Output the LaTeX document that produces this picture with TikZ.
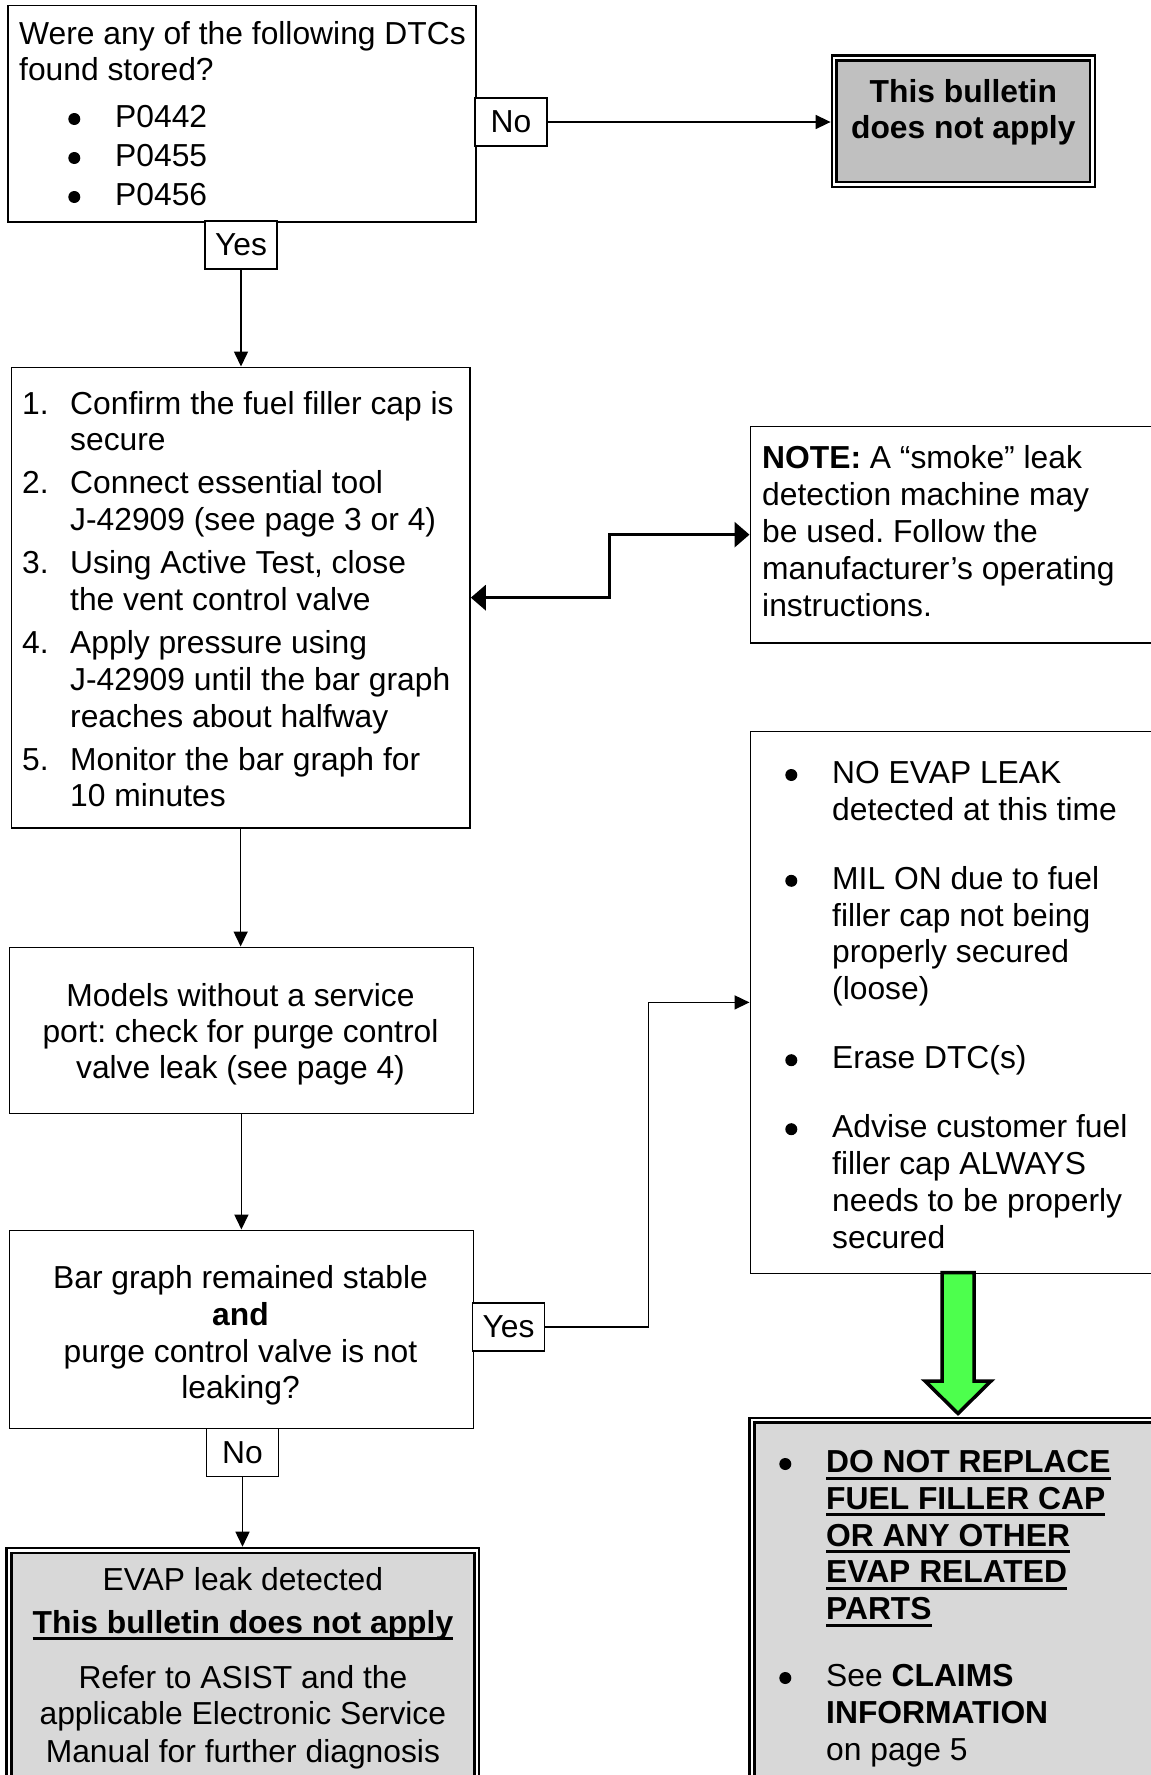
\documentclass[tikz,border=0pt]{standalone}
\usepackage{fontspec}
\setmainfont{Liberation Sans}
\usetikzlibrary{arrows.meta}
\definecolor{bullgray}{RGB}{192,192,192}
\definecolor{boxgray}{RGB}{216,216,216}
\definecolor{arrgreen}{RGB}{77,255,77}
\newsavebox\ulbox
\newcommand\myul[1]{\sbox\ulbox{#1}\rlap{\rule[-7pt]{\wd\ulbox}{3pt}}\usebox\ulbox}
\newcommand\mybul{\tikz[baseline=0pt,x=1pt,y=1pt]\fill (0,8.5) circle[radius=6];}
\newcommand\lbul{\makebox[46.5pt][l]{\hspace*{-0.4pt}\mybul}}
\newcommand\lind{\hspace*{46.5pt}}
\newcommand\lnum[1]{\makebox[48pt][l]{#1}}
\newcommand\lnumx{\hspace*{48pt}}
\frenchspacing
\begin{document}
\frenchspacing
\begin{tikzpicture}[x=1pt,y=-1pt,
  box/.style={draw, line width=1.8pt, fill=white, inner sep=0pt, anchor=north west},
  lab/.style={draw, line width=1.6pt, fill=white, inner sep=0pt, font=\fontsize{31.8}{36.8}\selectfont, minimum width=72pt, minimum height=48pt},
  dbox/.style={draw, line width=2.4pt, double=white, double distance=2.4pt, inner sep=0pt, outer sep=3.6pt, anchor=north west},
  txt/.style={inner sep=0pt, font=\fontsize{31.8}{36.8}\selectfont, anchor=base west},
  ctxt/.style={inner sep=0pt, font=\fontsize{31.8}{36.8}\selectfont, anchor=base},
  conn/.style={line width=1.6pt, -{Triangle[length=15pt,width=14pt]}},
  biconn/.style={line width=3.2pt, {Triangle[length=15pt,width=25pt]}-{Triangle[length=15pt,width=25pt]}}
]
\useasboundingbox (0,0) rectangle (1151,1775);
\fill[white] (0,0) rectangle (1151,1775);
\clip (0,0) rectangle (1151,1775);

% boxes
\node[box, minimum width=468pt, minimum height=216.5pt] (q1) at (7,4.5) {};
\node[dbox, fill=bullgray, minimum width=258.2pt, minimum height=126.5pt] (bull) at (830.6,54.3) {};
\node[box, minimum width=458.5pt, minimum height=460.5pt] (steps) at (10.5,366.5) {};
\node[box, minimum width=460pt, minimum height=216.5pt] (note) at (749.5,425.5) {};
\node[box, minimum width=460pt, minimum height=542pt] (noevap) at (749.5,730.5) {};
\node[box, minimum width=464pt, minimum height=166pt] (models) at (8.5,946.5) {};
\node[box, minimum width=464pt, minimum height=198pt] (bar) at (8.5,1229.5) {};
\node[dbox, fill=boxgray, minimum width=467.8pt, minimum height=300pt] (fin) at (5.4,1546.7) {};
\node[dbox, fill=boxgray, minimum width=460pt, minimum height=400pt] (dnr) at (748.3,1416.6) {};

% labels
\node[lab] (no1) at (511,122) {No};
\node[lab] (yes1) at (241,245) {Yes};
\node[lab] (yes2) at (508.5,1327) {Yes};
\node[lab] (no2) at (242.5,1452.5) {No};

% texts
\node[txt] (q1t) at (19,44) {\begin{tabular}[t]{@{}l@{}}Were any of the following DTCs\\found stored?\end{tabular}};
\node[txt] (q1l) at (68.5,127.5) {\begin{tabular}[t]{@{}l@{}}\lbul P0442\\[2.2pt]\lbul P0455\\[2.2pt]\lbul P0456\end{tabular}};
\node[ctxt, font=\fontsize{31.8}{36.5}\selectfont\bfseries] (bullt) at (963.3,102) {\begin{tabular}[t]{@{}c@{}}This bulletin\\does not apply\end{tabular}};
\node[txt] (stepst) at (22,414) {\begin{tabular}[t]{@{}l@{}}
\lnum{1.}Confirm the fuel filler cap is\\
\lnumx secure\\[6.2pt]
\lnum{2.}Connect essential tool\\
\lnumx J-42909 (see page 3 or 4)\\[6.2pt]
\lnum{3.}Using Active Test, close\\
\lnumx the vent control valve\\[6.2pt]
\lnum{4.}Apply pressure using\\
\lnumx J-42909 until the bar graph\\
\lnumx reaches about halfway\\[6.2pt]
\lnum{5.}Monitor the bar graph for\\
\lnumx 10 minutes
\end{tabular}};
\node[txt, font=\fontsize{31.8}{37.2}\selectfont] (notet) at (762,468) {\begin{tabular}[t]{@{}l@{}}\textbf{NOTE:} A “smoke” leak\\detection machine may\\be used. Follow the\\manufacturer’s operating\\instructions.\end{tabular}};
\node[txt] (noevapt) at (785.5,783.5) {\begin{tabular}[t]{@{}l@{}}
\lbul NO EVAP LEAK\\
\lind detected at this time\\[32.2pt]
\lbul MIL ON due to fuel\\
\lind filler cap not being\\
\lind properly secured\\
\lind (loose)\\[32.2pt]
\lbul Erase DTC(s)\\[32.2pt]
\lbul Advise customer fuel\\
\lind filler cap ALWAYS\\
\lind needs to be properly\\
\lind secured
\end{tabular}};
\node[ctxt, font=\fontsize{31.8}{36}\selectfont] (modelst) at (240.5,1006) {\begin{tabular}[t]{@{}c@{}}Models without a service\\port: check for purge control\\valve leak (see page 4)\end{tabular}};
\node[ctxt] (bart) at (240.5,1288.5) {\begin{tabular}[t]{@{}c@{}}Bar graph remained stable\\\textbf{and}\\purge control valve is not\\leaking?\end{tabular}};
\node[ctxt] (fint) at (242.9,1590) {\begin{tabular}[t]{@{}c@{}}EVAP leak detected\\[6.2pt]\myul{\textbf{This bulletin does not apply}}\\[18.2pt]Refer to ASIST and the\\applicable Electronic Service\\[1.2pt]Manual for further diagnosis\end{tabular}};
\node[txt] (dnrt) at (779.5,1472.5) {\begin{tabular}[t]{@{}l@{}}
\lbul\myul{\textbf{DO NOT REPLACE}}\\
\lind\myul{\textbf{FUEL FILLER CAP}}\\
\lind\myul{\textbf{OR ANY OTHER}}\\
\lind\myul{\textbf{EVAP RELATED}}\\
\lind\myul{\textbf{PARTS}}\\[30pt]
\lbul See \textbf{CLAIMS}\\
\lind\textbf{INFORMATION}\\
\lind on page 5
\end{tabular}};

% connectors
\draw[conn] (no1.east) -- (no1.east -| bull.west);
\draw[conn] (yes1.south) -- (yes1.south |- steps.north);
\draw[conn] (steps.south) -- (steps.south |- models.north);
\draw[conn] (models.south) -- (models.south |- bar.north);
\draw[conn] (no2.south) -- (no2.south |- fin.north);
\draw[conn] (yes2.east) -- ++(103,0) |- (noevap.west);
\draw[biconn] (steps.east) -- ++(139,0) |- (note.west);

% green block arrow
\coordinate (gt) at (958,1272.5);
\filldraw[fill=arrgreen, line width=3.5pt] (gt) ++(-16,0) -- ++(0,108.5) -- ++(-17,0) -- ++(33,32.5) -- ++(33,-32.5) -- ++(-17,0) -- ++(0,-108.5) -- cycle;
\end{tikzpicture}
\end{document}
